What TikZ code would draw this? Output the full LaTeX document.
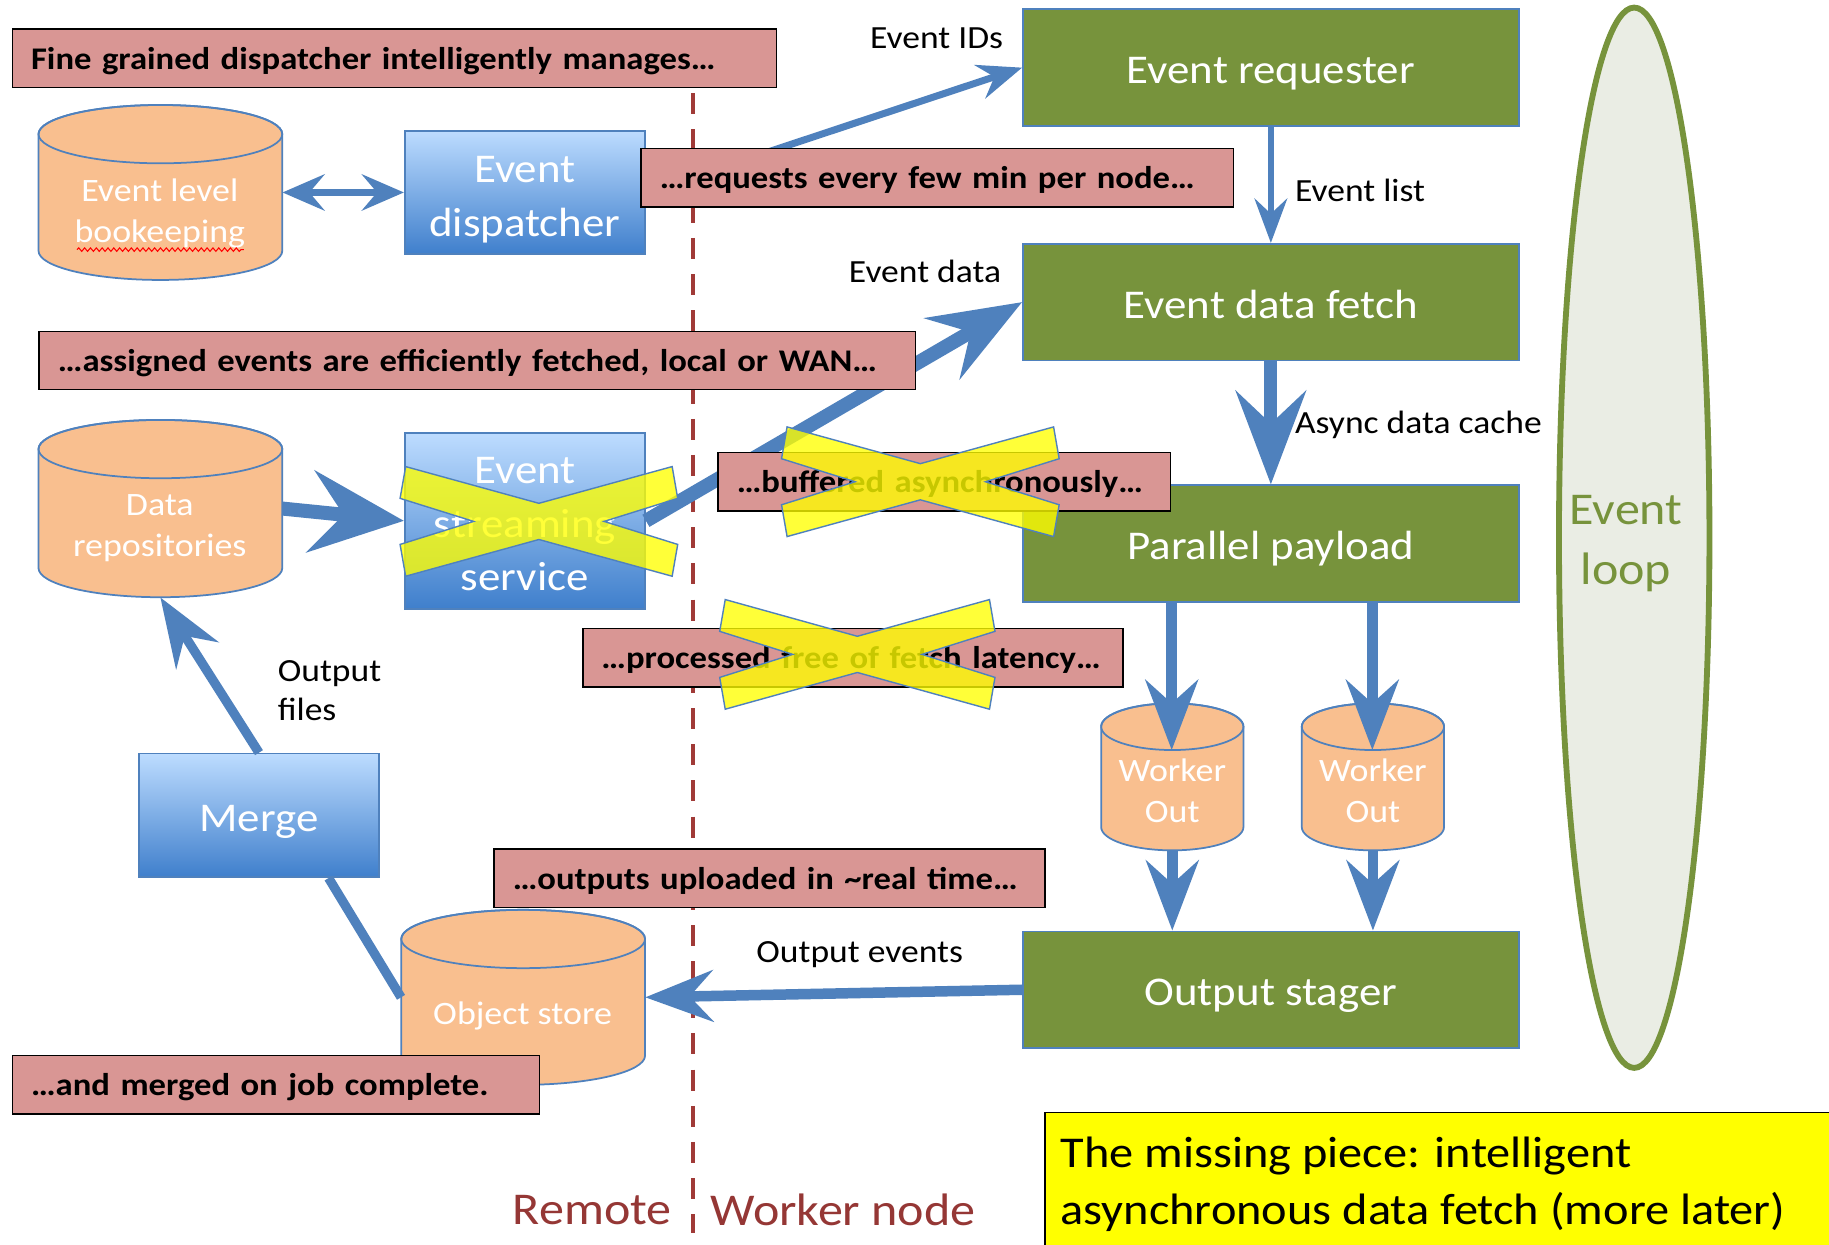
\documentclass[tikz,border=0pt]{standalone}
\usepackage{fontspec}
\setmainfont{Carlito}[FakeStretch=1.1]
\usetikzlibrary{arrows.meta,decorations.pathmorphing,shapes.geometric}

\definecolor{bannerpink}{HTML}{D99694}
\definecolor{olive}{HTML}{77933C}
\definecolor{accblue}{HTML}{4F81BD}
\definecolor{peach}{HTML}{F9BF8F}
\definecolor{gradtop}{HTML}{BDDCFF}
\definecolor{gradbot}{HTML}{3F7FCC}
\definecolor{divider}{HTML}{A03A37}
\definecolor{sidered}{HTML}{953735}
\definecolor{loopfill}{HTML}{EAEDE4}
\definecolor{noteyellow}{HTML}{FFFF00}

\tikzset{
  banner/.style={draw=black, line width=1.3pt, fill=bannerpink, anchor=west,
    inner xsep=16pt, inner ysep=0pt, minimum height=50pt, align=left,
    text height=19pt, text depth=0pt,
    font=\fontsize{27}{32}\selectfont\bfseries},
  greenbox/.style={draw=accblue, line width=1.5pt, fill=olive,
    minimum width=425pt, minimum height=100pt},
  bluebox/.style={draw=accblue, line width=1.5pt, top color=gradtop, bottom color=gradbot,
    minimum width=206pt},
  boxtext/.style={text=white, align=center, inner sep=0pt, font=\fontsize{35}{46}\selectfont},
  cylfill/.style={fill=peach, draw=accblue, line width=1.5pt},
  cylline/.style={draw=accblue, line width=1.5pt},
  cyltext/.style={text=white, align=center, inner sep=0pt, font=\fontsize{28}{35}\selectfont},
  lbl/.style={font=\fontsize{27.7}{34}\selectfont, inner sep=0pt, align=left},
  flow/.style n args={4}{draw=accblue, line width=#1,
    -{Stealth[length=#2, width=#3, inset=#4]}},
  xmark/.style={fill=noteyellow, fill opacity=0.78, draw=accblue, line width=1.2pt},
}

% cylinder: name, left x, right x, top y, bottom y, face radius
\newcommand\drum[6]{%
  \path[cylfill] (#2,{#4+#6}) -- (#2,{#5-#6})
     arc[start angle=180, end angle=0, x radius={(#3-#2)/2}, y radius=#6]
     -- (#3,{#4+#6})
     arc[start angle=0, end angle=-180, x radius={(#3-#2)/2}, y radius=#6] -- cycle;
  \draw[cylline] ({(#2+#3)/2},{#4+#6}) ellipse [x radius={(#3-#2)/2}, y radius=#6];
  \node[inner sep=0pt, minimum width={#3-#2}, minimum height={#5-#4}] (#1)
     at ({(#2+#3)/2},{(#4+#5)/2}) {};
}

% crossed-out mark: centre x, centre y, half width, half height
\newcommand\strikex[4]{%
  \filldraw[xmark] ({#1-0.96*#3},{#2-#4}) -- (#1,{#2-0.33*#4}) -- ({#1+0.96*#3},{#2-#4})
    -- ({#1+#3},{#2-0.42*#4}) -- ({#1+0.47*#3},#2) -- ({#1+#3},{#2+0.42*#4})
    -- ({#1+0.96*#3},{#2+#4}) -- (#1,{#2+0.33*#4}) -- ({#1-0.96*#3},{#2+#4})
    -- ({#1-#3},{#2+0.42*#4}) -- ({#1-0.47*#3},#2) -- ({#1-#3},{#2-0.42*#4}) -- cycle;
}

\begin{document}
\begin{tikzpicture}[x=1pt, y=-1pt]
\useasboundingbox (0,0) rectangle (1568,1067);
\clip (0,0) rectangle (1568,1067);
\fill[white] (0,0) rectangle (1568,1067);

% event loop
\node[ellipse, draw=olive, line width=5pt, fill=loopfill, inner sep=0pt,
      minimum width=129pt, minimum height=909pt] (loop) at (1401,461) {};
\node[text=olive, align=center, inner sep=0pt, font=\fontsize{39}{52}\selectfont]
      (looptext) at (1394,466) {Event\\loop};

% remote / worker divider
\draw[divider, line width=3.5pt, dash pattern=on 18pt off 13pt] (594,80) -- (594,1057);

% worker-node pipeline
\node[greenbox] (req)   at (1089.5,58)    {};
\node[greenbox] (fetch) at (1089.5,259)   {};
\node[greenbox] (pp)    at (1089.5,466)   {};
\node[greenbox] (os)    at (1089.5,848.5) {};
\node[boxtext] (reqT)   at (1089.5,63)    {Event requester};
\node[boxtext] (fetchT) at (1089.5,261)   {Event data fetch};
\node[boxtext] (ppT)    at (1089.5,470)   {Parallel payload};
\node[boxtext] (osT)    at (1089.5,854)   {Output stager};

% remote services
\node[bluebox, minimum height=106pt] (disp)  at (450,165)   {};
\node[bluebox, minimum height=151pt] (ess)   at (450,446.5) {};
\node[bluebox, minimum height=106pt] (merge) at (222,699)   {};
\node[boxtext] (dispT)  at (450,171)   {Event\\dispatcher};
\node[boxtext] (essT)   at (450,449.5) {Event\\streaming\\service};
\node[boxtext] (mergeT) at (222,705)   {Merge};

% stores
\drum{bk}{33}{242}{90}{240}{25}
\drum{dr}{33}{242}{360}{512}{25}
\drum{obj}{344}{553}{780}{930}{25}
\drum{wo1}{944}{1066}{603}{729}{20}
\drum{wo2}{1116}{1238}{603}{729}{20}
\node[cyltext] (bkT)  at (137,183)  {Event level\\bookeeping};
\draw[red, line width=0.9pt, decorate, decoration={snake, amplitude=1.5pt, segment length=5pt}]
      (66,214) -- (209,214);
\node[cyltext] (drT)  at (137,453)  {Data\\repositories};
\node[cyltext] (objT) at (448,871)  {Object store};
\node[cyltext] (wo1T) at (1005,678) {Worker\\Out};
\node[cyltext] (wo2T) at (1177,678) {Worker\\Out};
\coordinate (wo1face) at (1004.5,643);
\coordinate (wo2face) at (1176.5,643);

% data flow
\draw[draw=accblue, line width=6pt,
      {Stealth[length=36pt, width=31pt, inset=13pt]}-{Stealth[length=36pt, width=31pt, inset=13pt]}]
      (bk.east) -- (disp.west);
\draw[flow={6pt}{38pt}{30pt}{13pt}] (disp.east) -- (req.west);
\draw[flow={5pt}{38pt}{28pt}{13pt}] (req.south) -- (fetch.north);
\draw[flow={12pt}{79pt}{60pt}{28pt}] (ess.east) -- (fetch.west);
\draw[flow={12pt}{80pt}{70pt}{28pt}] (dr.east) -- (ess.west);
\draw[flow={11pt}{80pt}{60pt}{28pt}] (fetch.south) -- (pp.north);
\draw[flow={9pt}{60pt}{45pt}{20pt}] (pp.south -| wo1face) -- (wo1face);
\draw[flow={9pt}{60pt}{45pt}{20pt}] (pp.south -| wo2face) -- (wo2face);
\draw[flow={9pt}{60pt}{45pt}{20pt}] (wo1.south) -- (wo1.south |- os.north);
\draw[flow={9pt}{60pt}{45pt}{20pt}] (wo2.south) -- (wo2.south |- os.north);
\draw[flow={9pt}{58pt}{44pt}{20pt}] (os.west) -- (obj.east);
\draw[draw=accblue, line width=8pt] (obj.west) -- (merge.-42);
\draw[flow={8pt}{59pt}{43pt}{20pt}] (merge.north) -- (dr.south);

% commentary banners
\node[banner, text width=623pt] (b1) at (10,50)    {Fine grained dispatcher intelligently manages…};
\node[banner, text width=476pt] (b2) at (549,152.5) {…requests every few min per node…};
\node[banner, text width=719pt] (b3) at (33,309)   {…assigned events are efficiently fetched, local or WAN…};
\node[banner, text width=356pt] (b4) at (615,413)  {…buffered asynchronously…};
\node[banner, text width=431pt] (b5) at (499,564)  {…processed free of fetch latency…};
\node[banner, text width=440pt] (b6) at (423,753)  {…outputs uploaded in \textasciitilde real time…};
\node[banner, text width=420pt] (b7) at (10,930)   {…and merged on job complete.};

% crossed-out parts
\strikex{462}{447}{119}{47}
\strikex{789}{413}{119}{47}
\strikex{735}{561}{118}{47}

% connector labels
\node[lbl] (lids)   at (803,33)  {Event IDs};
\node[lbl] (llist)  at (1166,163) {Event list};
\node[lbl] (ldata)  at (793,233) {Event data};
\node[lbl] (lasync) at (1216,364) {Async data cache};
\node[lbl, anchor=west] (lfiles) at (238,592) {Output\\files};
\node[lbl] (levts)  at (737,818) {Output events};

% side captions
\node[text=sidered, inner sep=0pt, anchor=east, font=\fontsize{39}{48}\selectfont] (remote) at (576,1037) {Remote};
\node[text=sidered, inner sep=0pt, anchor=west, font=\fontsize{39}{48}\selectfont] (worker) at (609,1037) {Worker node};

% note
\node[draw=black, line width=1.3pt, fill=noteyellow, anchor=north west,
      minimum width=700pt, minimum height=140pt] (note) at (895,953) {};
\node[anchor=west, align=left, inner sep=0pt, font=\fontsize{37.7}{49}\selectfont] (notetext)
      at (909,1015) {The missing piece: intelligent\\asynchronous data fetch (more later)};
\end{tikzpicture}
\end{document}
